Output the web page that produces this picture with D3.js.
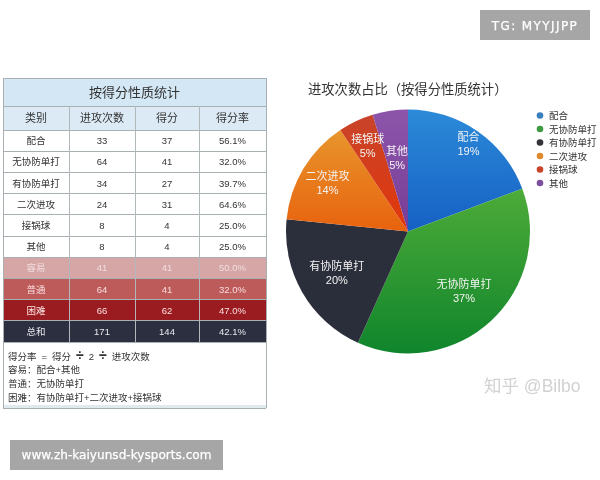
<!DOCTYPE html>
<html>
<head>
<meta charset="utf-8">
<script src="https://d3js.org/d3.v7.min.js"></script>
<style>
    html, body { margin: 0; padding: 0; background: #fff; }
    svg { display: block; filter: blur(0.35px); }
    text { font-family: "Liberation Sans", "Noto Sans CJK SC", sans-serif; }
    line { shape-rendering: crispEdges; }
</style>
</head>
<body>
<script>
    const width = 600, height = 480;

    // table content
    const tableTitle = "按得分性质统计";
    const headers = ["类别", "进攻次数", "得分", "得分率"];
    const rowNames = ["配合", "无协防单打", "有协防单打", "二次进攻", "接锅球", "其他", "容易", "普通", "困难", "总和"];
    const rowAttempts = [33, 64, 34, 24, 8, 8, 41, 64, 66, 171];
    const rowScores = [37, 41, 27, 31, 4, 4, 41, 41, 62, 144];
    const rowRates = ["56.1%", "32.0%", "39.7%", "64.6%", "25.0%", "25.0%", "50.0%", "32.0%", "47.0%", "42.1%"];
    const formulaParts = ["得分率", "=", "得分", "÷", "2", "÷", "进攻次数"];
    const notes = ["容易：配合+其他", "普通：无协防单打", "困难：有协防单打+二次进攻+接锅球"];

    // pie content
    const pieTitle = "进攻次数占比（按得分性质统计）";
    const pieNames = ["配合", "无协防单打", "有协防单打", "二次进攻", "接锅球", "其他"];
    const pieValues = [33, 64, 34, 24, 8, 8];
    const pieLabels = ["19%", "37%", "20%", "14%", "5%", "5%"];
    const pieTop = ["#2c8ad8", "#4dab38", "#2b2e3b", "#e8952c", "#c8442a", "#8d55aa"];
    const pieBottom = ["#1560c4", "#10852c", "#2a2d3a", "#e8620e", "#e2360a", "#763d96"];
    const legendColors = ["#3a7fbd", "#3f9a3f", "#333338", "#dd8a2e", "#c8452c", "#7d4f9e"];

    const rowFill = ["#fff", "#fff", "#fff", "#fff", "#fff", "#fff", "#d6a6a6", "#bd5b5b", "#9b1c20", "#2b2f3f"];
    const rowInk = ["#333", "#333", "#333", "#333", "#333", "#333", "#f0dcdc", "#f8dcdc", "#f8e0e0", "#e8e8ee"];

    const svg = d3.select("body").append("svg").attr("width", width).attr("height", height);

    // ---- table ----
    const x = d3.scaleLinear().domain([0, 1, 2, 3, 4]).range([3, 69, 135, 199, 266]);
    const y = d3.scaleBand().domain(d3.range(rowNames.length)).range([130, 342]);
    const table = svg.append("g");

    table.append("rect").attr("x", x(0)).attr("y", 78).attr("width", x(4) - x(0)).attr("height", 28)
        .attr("fill", "#d4e7f4");
    table.append("rect").attr("x", x(0)).attr("y", 106).attr("width", x(4) - x(0)).attr("height", 24)
        .attr("fill", "#dbeaf5");
    table.selectAll(".row").data(rowNames).join("rect")
        .attr("x", x(0))
        .attr("y", (d, i) => y(i))
        .attr("width", x(4) - x(0))
        .attr("height", y.bandwidth())
        .attr("fill", (d, i) => rowFill[i]);
    table.append("rect").attr("x", x(0)).attr("y", 405).attr("width", x(4) - x(0)).attr("height", 3)
        .attr("fill", "#dfeaee");

    table.append("text").attr("x", (x(0) + x(4)) / 2).attr("y", 96.5)
        .attr("text-anchor", "middle").attr("font-size", 13).attr("fill", "#333").text(tableTitle);
    table.selectAll(".head").data(headers).join("text")
        .attr("x", (d, i) => (x(i) + x(i + 1)) / 2)
        .attr("y", 122)
        .attr("text-anchor", "middle").attr("font-size", 11).attr("fill", "#333")
        .text(d => d);

    [rowNames, rowAttempts, rowScores, rowRates].forEach((col, c) => {
        table.append("g").selectAll("text").data(col).join("text")
            .attr("x", (x(c) + x(c + 1)) / 2)
            .attr("y", (d, i) => y(i) + y.bandwidth() / 2 + 3.5)
            .attr("text-anchor", "middle")
            .attr("font-size", 9.5)
            .attr("fill", (d, i) => rowInk[i])
            .text(d => d);
    });

    // grid lines
    const hLines = [78, 106, 130].concat(d3.range(1, rowNames.length).map(i => y(i)), [342, 408]);
    table.selectAll(".h").data(hLines).join("line")
        .attr("x1", x(0)).attr("x2", x(4))
        .attr("y1", d => d).attr("y2", d => d)
        .attr("stroke", "#a8b0b4").attr("stroke-width", 1);
    table.selectAll(".v").data([1, 2, 3]).join("line")
        .attr("x1", d => x(d)).attr("x2", d => x(d))
        .attr("y1", 106).attr("y2", 342)
        .attr("stroke", "#b0b8bc").attr("stroke-width", 1);
    table.selectAll(".o").data([0, 4]).join("line")
        .attr("x1", d => x(d)).attr("x2", d => x(d))
        .attr("y1", 78).attr("y2", 408)
        .attr("stroke", "#a8b0b4").attr("stroke-width", 1);

    // formula line, the divide signs are drawn bigger
    const formula = table.append("text").attr("x", 8).attr("y", 359.5)
        .attr("font-size", 9.5).attr("fill", "#333");
    formula.selectAll("tspan").data(formulaParts).join("tspan")
        .attr("dx", (d, i) => i === 0 ? 0 : 5)
        .attr("font-size", d => d === "÷" ? 14 : 9.5)
        .attr("font-weight", d => d === "÷" ? "bold" : "normal")
        .text(d => d);

    table.selectAll(".note").data(notes).join("text")
        .attr("x", 8)
        .attr("y", (d, i) => 373.4 + i * 13.9)
        .attr("font-size", 9.5).attr("fill", "#333")
        .text(d => d);

    // ---- pie ----
    const cx = 408, cy = 231.5, r = 122;
    const pieGroup = svg.append("g").attr("transform", `translate(${cx},${cy})`);
    const arcs = d3.pie().sort(null)(pieValues);
    const arc = d3.arc().innerRadius(0).outerRadius(r);
    const defs = svg.append("defs");

    arcs.forEach((a, i) => {
        const g = defs.append("linearGradient").attr("id", "slice" + i)
            .attr("x1", 0).attr("x2", 0).attr("y1", 0).attr("y2", 1);
        g.append("stop").attr("offset", "0%").attr("stop-color", pieTop[i]);
        g.append("stop").attr("offset", "100%").attr("stop-color", pieBottom[i]);
    });

    pieGroup.selectAll("path").data(arcs).join("path")
        .attr("d", arc)
        .attr("fill", (d, i) => `url(#slice${i})`);

    // label radius differs per slice in the original layout
    const labelRadius = [0.87, 0.67, 0.674, 0.77, 0.774, 0.61];
    pieGroup.selectAll(".lab").data(arcs).join("g")
        .attr("transform", (d, i) => {
            const mid = (d.startAngle + d.endAngle) / 2;
            const lr = r * labelRadius[i];
            return `translate(${Math.sin(mid) * lr},${-Math.cos(mid) * lr})`;
        })
        .each(function (d, i) {
            const t = d3.select(this).append("text")
                .attr("text-anchor", "middle").attr("font-size", 11).attr("fill", "#f4f4f4");
            t.append("tspan").attr("x", 0).attr("dy", -3).text(pieNames[i]);
            t.append("tspan").attr("x", 0).attr("dy", 14).text(pieLabels[i]);
        });

    svg.append("text").attr("x", 308).attr("y", 94)
        .attr("font-size", 13.3).attr("fill", "#333").text(pieTitle);

    // legend
    const legendY = d3.scalePoint().domain(d3.range(pieNames.length)).range([115.5, 183]);
    const legend = svg.append("g");
    legend.selectAll("circle").data(pieNames).join("circle")
        .attr("cx", 540).attr("cy", (d, i) => legendY(i)).attr("r", 3.3)
        .attr("fill", (d, i) => legendColors[i]);
    legend.selectAll("text").data(pieNames).join("text")
        .attr("x", 549).attr("y", (d, i) => legendY(i) + 3.5)
        .attr("font-size", 9.5).attr("fill", "#333").text(d => d);

    // ---- watermarks ----
    svg.append("text").attr("x", 484).attr("y", 391.5)
        .attr("font-size", 17.5).attr("fill", "#d2d2d2").text("知乎 @Bilbo");

    svg.append("rect").attr("x", 480).attr("y", 10).attr("width", 110).attr("height", 30).attr("fill", "#a6a6a6");
    svg.append("text").attr("x", 535).attr("y", 29.5)
        .attr("text-anchor", "middle").attr("font-size", 12)
        .attr("letter-spacing", 1.4).attr("stroke", "#fff").attr("stroke-width", 0.25)
        .style("font-family", "'DejaVu Sans', sans-serif").attr("fill", "#fff").text("TG: MYYJJPP");

    svg.append("rect").attr("x", 10).attr("y", 440).attr("width", 213).attr("height", 30).attr("fill", "#a6a6a6");
    svg.append("text").attr("x", 116.5).attr("y", 459)
        .attr("text-anchor", "middle").attr("font-size", 12.1)
        .attr("stroke", "#fff").attr("stroke-width", 0.25)
        .style("font-family", "'DejaVu Sans', sans-serif").attr("fill", "#fff").text("www.zh-kaiyunsd-kysports.com");
</script>
</body>
</html>
